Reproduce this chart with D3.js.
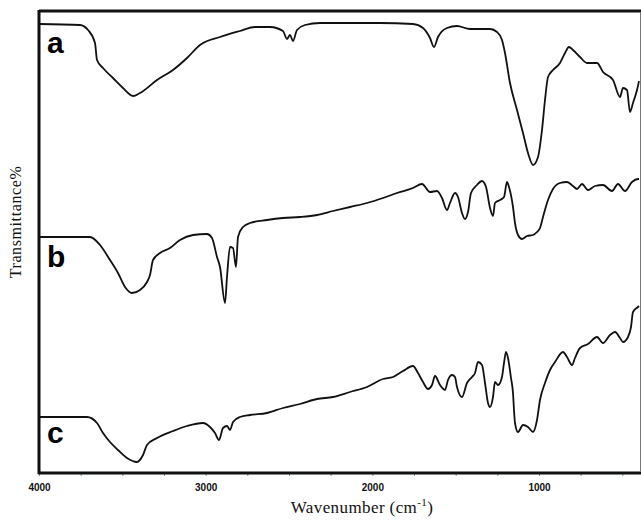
<!DOCTYPE html>
<html>
<head>
<meta charset="utf-8">
<script src="https://cdn.jsdelivr.net/npm/d3@7"></script>
<style>
  body { margin: 0; background: #fff; }
  svg { display: block; }
</style>
</head>
<body>
<div id="chart"></div>
<script>
// FTIR spectra: [wavenumber cm-1, transmittance (arb. units)]
let spectrumA = [
  [4000,89.6],[3754,89.4],[3706,88.4],[3664,85.8],[3652,82.4],[3616,80.8],[3556,78.8],
  [3496,76.8],[3436,75.2],[3394,75.8],[3292,78.4],[3196,80.4],[3112,82.8],[3034,85.4],
  [2914,87.0],[2794,88.2],[2704,89.0],[2614,89.0],[2536,88.2],[2512,86.6],[2494,87.4],
  [2476,86.2],[2452,88.4],[2404,89.4],[2314,89.8],[1954,89.8],[1756,89.6],[1696,88.8],
  [1654,86.8],[1630,85.0],[1606,87.0],[1552,88.8],[1492,89.2],[1414,88.6],[1354,88.6],
  [1294,88.6],[1252,88.0],[1222,86.4],[1204,83.8],[1174,77.8],[1132,72.4],[1096,67.8],
  [1066,63.8],[1036,61.4],[1006,63.0],[982,68.4],[964,74.4],[946,79.0],[916,80.4],
  [874,81.8],[844,83.8],[820,85.0],[796,84.4],[754,83.0],[712,81.8],[652,81.8],
  [616,80.0],[556,78.4],[514,75.0],[496,76.8],[472,76.4],[454,72.0],[436,73.8],
  [412,76.4],[400,78.2]
]

let spectrumB = [
  [4000,47.0],[3694,47.0],[3634,45.4],[3574,42.4],[3526,39.8],[3484,37.0],[3442,35.8],
  [3394,36.4],[3352,38.0],[3334,39.4],[3316,42.4],[3274,43.8],[3214,44.8],[3154,46.4],
  [3076,47.4],[2992,47.6],[2962,46.8],[2932,43.0],[2914,41.0],[2884,33.8],[2872,39.0],
  [2854,45.0],[2836,44.8],[2818,41.0],[2806,47.0],[2776,49.0],[2734,49.8],[2632,50.4],
  [2536,50.8],[2434,51.0],[2332,51.4],[2236,52.2],[2134,53.0],[2032,53.8],[1936,54.8],
  [1852,55.8],[1756,56.8],[1702,57.6],[1654,56.0],[1612,56.2],[1582,54.8],[1552,52.4],
  [1534,53.8],[1504,55.8],[1486,55.0],[1462,51.8],[1444,50.6],[1426,52.0],[1408,55.8],
  [1372,57.4],[1342,58.2],[1318,57.0],[1294,52.8],[1276,51.2],[1264,53.8],[1234,54.4],
  [1210,55.0],[1192,58.0],[1180,57.0],[1156,53.0],[1144,49.8],[1126,47.4],[1102,46.6],
  [1072,47.2],[1036,47.4],[1012,48.0],[994,48.8],[976,51.0],[946,54.4],[916,56.6],
  [874,57.8],[832,58.0],[796,57.2],[772,56.6],[742,57.6],[706,56.4],[664,57.2],
  [616,57.4],[562,56.2],[526,57.6],[484,56.2],[442,58.0],[406,58.6],[400,58.6]
]

let spectrumC = [
  [4000,11.0],[3712,11.0],[3652,9.8],[3616,7.8],[3574,6.0],[3526,4.4],[3472,2.8],
  [3412,2.0],[3376,3.4],[3352,5.4],[3292,6.8],[3196,8.2],[3112,9.2],[3016,9.8],
  [2974,9.0],[2944,7.8],[2920,6.4],[2896,8.8],[2872,9.2],[2854,8.4],[2836,10.0],
  [2794,11.0],[2734,11.4],[2632,11.8],[2536,12.8],[2434,13.6],[2332,14.6],[2236,15.0],
  [2134,16.0],[2032,17.0],[1936,18.6],[1876,19.0],[1816,20.2],[1756,21.2],[1726,19.8],
  [1696,18.0],[1666,16.6],[1642,17.4],[1624,19.2],[1594,17.4],[1564,16.4],[1546,18.4],
  [1522,19.4],[1504,19.0],[1492,17.0],[1462,15.0],[1432,17.8],[1402,19.0],[1384,19.8],
  [1366,22.0],[1342,21.4],[1324,17.8],[1306,13.8],[1294,13.0],[1276,15.0],[1264,18.0],
  [1246,17.4],[1222,19.0],[1210,21.8],[1198,24.0],[1186,22.8],[1168,18.8],[1156,15.8],
  [1150,12.4],[1144,9.8],[1126,8.0],[1096,9.4],[1066,9.0],[1036,8.0],[1012,10.4],
  [994,14.4],[964,17.8],[934,20.4],[904,22.0],[856,24.0],[832,23.0],[802,21.4],
  [784,22.8],[754,24.8],[706,25.6],[652,27.0],[616,25.8],[574,27.4],[544,28.0],
  [514,26.8],[496,26.0],[466,27.0],[448,29.0],[436,32.0],[406,33.0],[400,33.2]
]

let seriesNames = ["a", "b", "c"]
let seriesData = [spectrumA, spectrumB, spectrumC]
// where each letter sits (transmittance of its baseline)
let labelLevels = [83.8, 41.0, 5.8]

let xTicks = [4000, 3750, 3500, 3250, 3000, 2750, 2500, 2250, 2000, 1750, 1500, 1250, 1000, 750, 500]
let xLabels = [4000, 3000, 2000, 1000]

let width = 641, height = 520
let plotLeft = 39, plotRight = 639, plotTop = 12, plotBottom = 472

let svg = d3.select("#chart").append("svg")
  .attr("width", width)
  .attr("height", height)

let x = d3.scaleLinear().domain([4000, 400]).range([plotLeft, plotRight])
let y = d3.scaleLinear().domain([0, 92]).range([plotBottom, plotTop])

// minor/major ticks under the bottom line
let xAxis = d3.axisBottom(x)
  .tickValues(xTicks)
  .tickSize(3)
  .tickPadding(8)
  .tickFormat(d => xLabels.includes(d) ? d : "")

let gx = svg.append("g")
  .attr("transform", "translate(0," + (plotBottom + 1) + ")")
  .call(xAxis)
gx.select(".domain").remove()
gx.selectAll(".tick line").attr("stroke", "#5f9ea0").attr("stroke-width", 1)
gx.selectAll(".tick text")
  .attr("font-family", "'Liberation Sans', Arial, sans-serif")
  .attr("font-weight", "bold")
  .attr("font-size", 10)
  .attr("fill", "#111")

// frame
svg.append("line").attr("x1", plotLeft).attr("x2", 641).attr("y1", 11).attr("y2", 11)
  .attr("stroke", "#111").attr("stroke-width", 3)
svg.append("line").attr("x1", plotLeft - 1).attr("x2", 641).attr("y1", plotBottom + 1).attr("y2", plotBottom + 1)
  .attr("stroke", "#111").attr("stroke-width", 3)
svg.append("line").attr("x1", plotLeft).attr("x2", plotLeft).attr("y1", 10).attr("y2", plotBottom + 2)
  .attr("stroke", "#111").attr("stroke-width", 3)
svg.append("line").attr("x1", 640.5).attr("x2", 640.5).attr("y1", 12).attr("y2", plotBottom)
  .attr("stroke", "#777").attr("stroke-width", 1)

// the three spectra
let line = d3.line()
  .x(d => x(d[0]))
  .y(d => y(d[1]))
  .curve(d3.curveMonotoneX)

svg.selectAll(".spectrum")
  .data(seriesData)
  .enter().append("path")
  .attr("class", "spectrum")
  .attr("d", line)
  .attr("fill", "none")
  .attr("stroke", "#111")
  .attr("stroke-width", 1.8)
  .attr("stroke-linejoin", "round")

svg.selectAll(".tag")
  .data(seriesNames)
  .enter().append("text")
  .attr("class", "tag")
  .attr("x", 47)
  .attr("y", (d, i) => y(labelLevels[i]))
  .attr("font-family", "'Liberation Sans', Arial, sans-serif")
  .attr("font-weight", "bold")
  .attr("font-size", 30)
  .attr("fill", "#000")
  .text(d => d)

// axis titles
let xTitle = svg.append("text")
  .attr("x", 362)
  .attr("y", 513)
  .attr("text-anchor", "middle")
  .attr("font-family", "'Liberation Serif', 'Times New Roman', serif")
  .attr("font-size", 17)
  .attr("letter-spacing", 0.4)
  .attr("fill", "#111")
xTitle.append("tspan").text("Wavenumber (cm")
xTitle.append("tspan").attr("dy", -7).attr("font-size", 11).text("-1")
xTitle.append("tspan").attr("dy", 7).text(")")

svg.append("text")
  .attr("transform", "translate(21,222) rotate(-90)")
  .attr("text-anchor", "middle")
  .attr("font-family", "'Liberation Serif', 'Times New Roman', serif")
  .attr("font-size", 16)
  .attr("letter-spacing", 0.6)
  .attr("fill", "#111")
  .text("Transmittance%")
</script>
</body>
</html>
